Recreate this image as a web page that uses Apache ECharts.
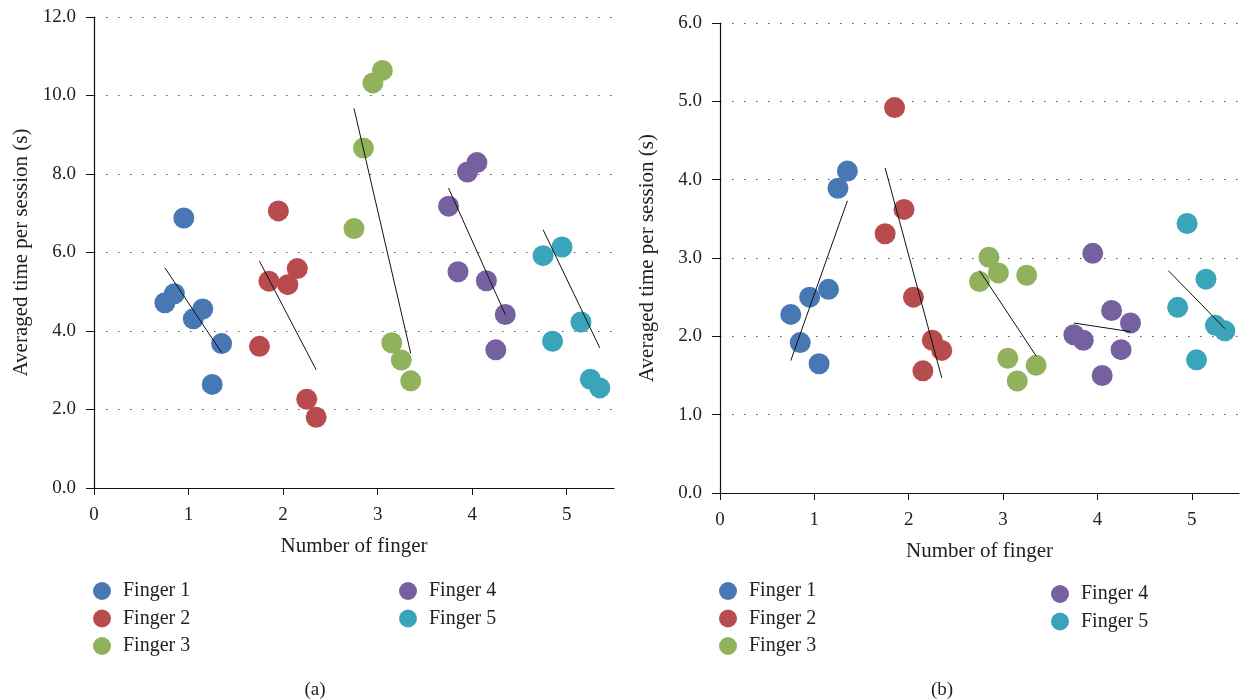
<!DOCTYPE html>
<html>
<head>
<meta charset="utf-8">
<script src="https://cdn.jsdelivr.net/npm/echarts@6/dist/echarts.min.js"></script>
<style>
  html, body { margin: 0; padding: 0; background: #fff; }
  #main { width: 1241px; height: 699px; }
</style>
</head>
<body>
<div id="main"></div>
<script>
// finger names and the x offset of each point inside a finger group
const fingers = ['Finger 1', 'Finger 2', 'Finger 3', 'Finger 4', 'Finger 5'];
const xOffsets = [-0.25, -0.15, -0.05, 0.05, 0.15, 0.25, 0.35];
const xTicks = [0, 1, 2, 3, 4, 5];
const colors = ['#4878b3', '#b84b4e', '#91b25c', '#7661a0', '#3aa4ba'];

// (a) averaged time per session, one array per finger
const aFinger1 = [4.72, 4.95, 6.88, 4.31, 4.56, 2.64, 3.68];
const aFinger2 = [3.61, 5.27, 7.06, 5.18, 5.59, 2.26, 1.80];
const aFinger3 = [6.61, 8.66, 10.32, 10.64, 3.70, 3.26, 2.73];
const aFinger4 = [7.18, 5.51, 8.05, 8.29, 5.28, 3.52, 4.42];
const aFinger5 = [5.92, 3.74, 6.14, null, 4.23, 2.77, 2.55];
// (a) trend line start / end values
const aTrend = [[5.61, 3.45], [5.78, 3.01], [9.67, 3.43], [7.64, 4.42], [6.58, 3.57]];

// (b)
const bFinger1 = [2.28, 1.92, 2.50, 1.65, 2.60, 3.89, 4.11];
const bFinger2 = [3.31, 4.92, 3.62, 2.50, 1.56, 1.95, 1.82];
const bFinger3 = [2.70, 3.01, 2.81, 1.72, 1.43, 2.78, 1.63];
const bFinger4 = [2.02, 1.95, 3.06, 1.50, 2.33, 1.83, 2.17];
const bFinger5 = [null, 2.37, 3.44, 1.70, 2.73, 2.14, 2.07];
const bTrend = [[1.69, 3.73], [4.15, 1.47], [2.84, 1.75], [2.17, 2.06], [2.84, 2.10]];

const aValues = [aFinger1, aFinger2, aFinger3, aFinger4, aFinger5];
const bValues = [bFinger1, bFinger2, bFinger3, bFinger4, bFinger5];

const font = 'Liberation Serif';
const myChart = echarts.init(document.getElementById('main'));

function xAxisFor(gridIndex) {
  return {
    gridIndex: gridIndex,
    type: 'value',
    min: 0, max: 5.5, interval: 1,
    name: 'Number of finger',
    nameLocation: 'middle',
    nameGap: 48,
    nameTextStyle: { fontFamily: font, fontSize: 21, color: '#222' },
    axisLine: { show: true, onZero: false, lineStyle: { color: '#111', width: 1.2 } },
    axisTick: { show: true, length: 7, customValues: xTicks, lineStyle: { color: '#111' } },
    axisLabel: {
      fontFamily: font, fontSize: 19, color: '#222', margin: 18,
      customValues: xTicks
    },
    splitLine: { show: false }
  };
}

function yAxisFor(gridIndex, max, interval) {
  return {
    gridIndex: gridIndex,
    type: 'value',
    min: 0, max: max, interval: interval,
    name: 'Averaged time per session (s)',
    nameLocation: 'middle',
    nameGap: 62,
    nameTextStyle: { fontFamily: font, fontSize: 21, color: '#222' },
    axisLine: { show: true, lineStyle: { color: '#111', width: 1.2 } },
    axisTick: { show: true, length: 8, lineStyle: { color: '#111' } },
    axisLabel: {
      fontFamily: font, fontSize: 19, color: '#222', margin: 18,
      formatter: v => v.toFixed(1)
    },
    splitLine: {
      show: true,
      lineStyle: { color: '#555', width: 1.2, type: [1.5, 10.5], dashOffset: -12 }
    }
  };
}

function buildSeries(values, trend, idx) {
  const out = [];
  values.forEach((arr, f) => {
    const pts = [];
    arr.forEach((v, i) => { if (v !== null) pts.push([f + 1 + xOffsets[i], v]); });
    out.push({
      name: fingers[f],
      type: 'scatter',
      xAxisIndex: idx, yAxisIndex: idx,
      symbolSize: 21,
      itemStyle: { color: colors[f], opacity: 1 },
      data: pts,
      z: 2
    });
  });
  trend.forEach((t, f) => {
    out.push({
      name: 'trend' + idx + '-' + f,
      type: 'line',
      xAxisIndex: idx, yAxisIndex: idx,
      symbol: 'none',
      lineStyle: { color: '#111', width: 1 },
      data: [[f + 1 + xOffsets[0], t[0]], [f + 1 + xOffsets[6], t[1]]],
      z: 3,
      silent: true
    });
  });
  return out;
}

function legendAt(names, left, top) {
  return {
    data: names,
    orient: 'vertical',
    left: left, top: top,
    padding: 0,
    icon: 'circle',
    itemWidth: 18, itemHeight: 18,
    itemGap: 7.5,
    textStyle: { fontFamily: font, fontSize: 20, color: '#222', padding: [0, 0, 0, 7] }
  };
}

myChart.setOption({
  animation: false,
  title: [
    { text: '(a)', left: 310, top: 676, textAlign: 'center',
      textStyle: { fontFamily: font, fontSize: 19, fontWeight: 'normal', color: '#222' } },
    { text: '(b)', left: 937, top: 676, textAlign: 'center',
      textStyle: { fontFamily: font, fontSize: 19, fontWeight: 'normal', color: '#222' } }
  ],
  legend: [
    legendAt(fingers.slice(0, 3), 93, 581),
    legendAt(fingers.slice(3), 399, 581),
    legendAt(fingers.slice(0, 3), 719, 581),
    legendAt(fingers.slice(3), 1051, 584)
  ],
  grid: [
    { left: 94, top: 17, width: 520, height: 471 },
    { left: 720, top: 23, width: 519, height: 470 }
  ],
  xAxis: [xAxisFor(0), xAxisFor(1)],
  yAxis: [yAxisFor(0, 12, 2), yAxisFor(1, 6, 1)],
  series: buildSeries(aValues, aTrend, 0).concat(buildSeries(bValues, bTrend, 1))
});
</script>
</body>
</html>
